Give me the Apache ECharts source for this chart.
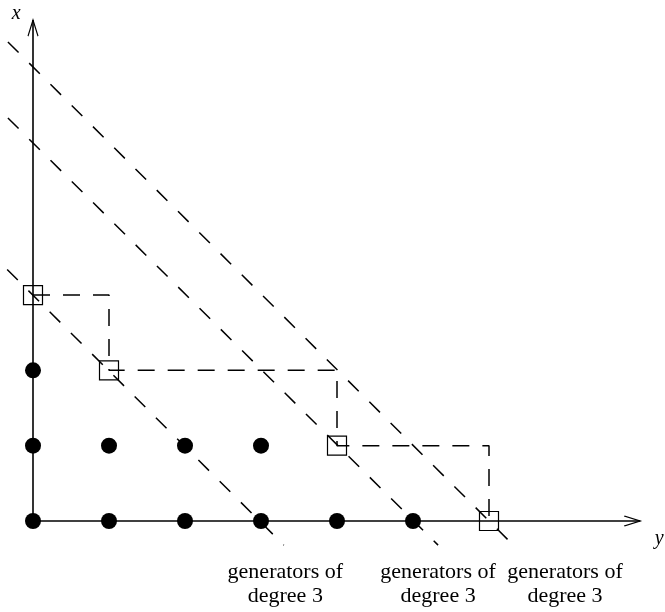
<!DOCTYPE html>
<html>
<head>
<meta charset="utf-8">
<script src="https://cdn.jsdelivr.net/npm/echarts@6/dist/echarts.min.js"></script>
<style>
html, body { margin: 0; padding: 0; background: #fff; }
#chart { width: 665px; height: 612px; }
</style>
</head>
<body>
<div id="chart"></div>
<script>
// points are [y, x] : horizontal axis is y, vertical axis is x
var dots = [[0,0],[1,0],[2,0],[3,0],[4,0],[5,0],[0,1],[1,1],[2,1],[3,1],[0,2]];
var squares = [[0,3],[1,2],[4,1],[6,0]];
var staircase = [[0,3],[1,3],[1,2],[4,2],[4,1],[6,1],[6,0]];
var diagonals = [
	[[-0.34,3.34],[3.3,-0.32]],
	[[-0.33,5.35],[5.33,-0.32]],
	[[-0.33,6.36],[6.32,-0.32]]
];
var labelText = 'generators of\ndegree 3';
var labelPos = [[3.32,-0.84],[5.33,-0.84],[7.0,-0.84]];
var axisEndH = 7.99;
var axisEndV = 6.65;
var axisNames = [{name:'x', value:[-0.22,6.74]},{name:'y', value:[8.24,-0.23]}];

var serifFont = '"Liberation Serif", "DejaVu Serif", serif';
var myChart = echarts.init(document.getElementById('chart'));

var series = [];
// axes with open arrow heads
var arrowStyle = { color: 'none', borderColor: '#000', borderWidth: 1.4, opacity: 1 };
series.push({
	type: 'line', silent: true, z: 2,
	lineStyle: { color: '#000', width: 1.6 },
	itemStyle: arrowStyle,
	data: [
		{ value: [0,0], symbol: 'none' },
		{ value: [axisEndH,0], symbol: 'path://M0,0L10,5L0,10', symbolSize: [16,10], symbolOffset: [-8,0] }
	]
});
series.push({
	type: 'line', silent: true, z: 2,
	lineStyle: { color: '#000', width: 1.6 },
	itemStyle: arrowStyle,
	data: [
		{ value: [0,0], symbol: 'none' },
		{ value: [0,axisEndV], symbol: 'path://M0,10L5,0L10,10', symbolSize: [10,16], symbolOffset: [0,8] }
	]
});
// dashed diagonals
diagonals.forEach(function (d) {
	series.push({
		type: 'line', silent: true, z: 3, symbol: 'none', clip: false,
		lineStyle: { color: '#000', width: 1.5, type: [15,15] },
		data: d
	});
});
// dashed staircase
series.push({
	type: 'line', silent: true, z: 3, symbol: 'none',
	lineStyle: { color: '#000', width: 1.5, type: [17,13] },
	data: staircase
});
// filled dots
series.push({
	type: 'scatter', silent: true, z: 5,
	symbol: 'circle', symbolSize: 16,
	itemStyle: { color: '#000', opacity: 1 },
	data: dots
});
// open squares
series.push({
	type: 'scatter', silent: true, z: 5,
	symbol: 'rect', symbolSize: 19,
	itemStyle: { color: 'none', borderColor: '#000', borderWidth: 1.2, opacity: 1 },
	data: squares
});
// texts below
series.push({
	type: 'scatter', silent: true, z: 6, clip: false,
	symbol: 'circle', symbolSize: 0,
	itemStyle: { opacity: 1 },
	label: {
		show: true, position: 'inside', formatter: labelText,
		fontFamily: serifFont, fontSize: 22, lineHeight: 24, color: '#000'
	},
	data: labelPos
});
// axis letters
series.push({
	type: 'scatter', silent: true, z: 6, clip: false,
	symbol: 'circle', symbolSize: 0,
	itemStyle: { opacity: 1 },
	label: {
		show: true, position: 'inside', formatter: '{b}',
		fontFamily: serifFont, fontStyle: 'italic', fontSize: 20, color: '#000'
	},
	data: axisNames
});

var option = {
	animation: false,
	backgroundColor: '#fff',
	grid: { left: 2.6, right: 24, top: 8.8, bottom: 0.6 },
	xAxis: {
		type: 'value', min: -0.4, max: 8,
		axisLine: { show: false }, axisTick: { show: false },
		axisLabel: { show: false }, splitLine: { show: false }
	},
	yAxis: {
		type: 'value', min: -1.2, max: 6.8,
		axisLine: { show: false }, axisTick: { show: false },
		axisLabel: { show: false }, splitLine: { show: false }
	},
	series: series
};
myChart.setOption(option);
</script>
</body>
</html>
